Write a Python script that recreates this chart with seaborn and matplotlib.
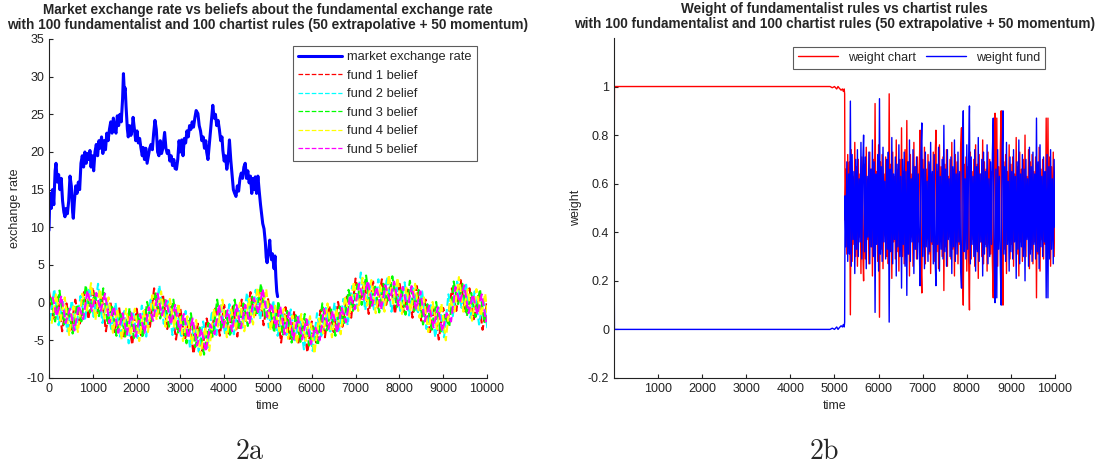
import numpy as np
import matplotlib
matplotlib.use("Agg")
import matplotlib.pyplot as plt
from matplotlib.ticker import FuncFormatter
import seaborn as sns

# ------------------------------
# Data
# ------------------------------

# market exchange rate (ends around t = 5230)
market_t = [0, 20, 50, 80, 110, 140, 160, 190, 220, 250, 280, 310, 340, 365, 390, 420, 450, 480,
            510, 540, 555, 580, 610, 640, 670, 700, 730, 760, 790, 820, 850, 880, 910, 935, 960,
            990, 1020, 1050, 1080, 1110, 1140, 1170, 1200, 1230, 1260, 1290, 1320, 1350, 1380,
            1410, 1440, 1470, 1500, 1530, 1560, 1590, 1620, 1650, 1680, 1700, 1720, 1740, 1760,
            1790, 1810, 1840, 1870, 1900, 1920, 1950, 1980, 2010, 2040, 2070, 2100, 2130, 2150,
            2180, 2210, 2240, 2270, 2300, 2330, 2360, 2390, 2420, 2450, 2480, 2510, 2540, 2570,
            2600, 2640, 2670, 2700, 2730, 2760, 2790, 2820, 2850, 2880, 2910, 2940, 2970, 3000,
            3030, 3060, 3090, 3120, 3150, 3180, 3210, 3240, 3270, 3300, 3330, 3360, 3400, 3430,
            3460, 3490, 3520, 3550, 3580, 3600, 3630, 3660, 3690, 3720, 3740, 3770, 3800, 3830,
            3860, 3890, 3920, 3950, 3970, 4000, 4030, 4060, 4090, 4120, 4150, 4180, 4210, 4240,
            4270, 4300, 4330, 4360, 4390, 4420, 4450, 4480, 4510, 4540, 4570, 4600, 4630, 4660,
            4690, 4710, 4740, 4770, 4800, 4830, 4850, 4880, 4910, 4940, 4960, 4980, 5000, 5020,
            5040, 5060, 5080, 5100, 5120, 5140, 5160, 5180, 5200, 5220]
market_rate = [9.6, 14.5, 12.5, 15.0, 13.0, 17.5, 18.5, 16.0, 17.0, 15.0, 16.5, 13.5, 12.0, 11.4,
               12.5, 11.8, 13.5, 16.8, 15.5, 12.0, 11.2, 13.5, 15.5, 14.5, 16.0, 15.0, 18.5, 19.5,
               18.0, 20.0, 18.5, 19.8, 19.0, 20.2, 18.0, 19.5, 17.5, 20.0, 21.0, 19.5, 21.5, 20.5,
               22.0, 19.8, 21.5, 20.3, 22.5, 21.5, 23.0, 24.0, 22.5, 24.5, 23.0, 22.5, 24.8, 23.5,
               25.0, 24.0, 27.0, 30.4, 28.0, 28.5, 26.0, 23.0, 22.0, 23.5, 22.2, 23.0, 24.6, 23.0,
               21.5, 22.8, 21.2, 21.8, 20.5, 19.5, 20.6, 19.0, 20.5, 18.5, 19.5, 20.5, 21.0, 20.3,
               22.5, 24.2, 23.0, 20.0, 19.5, 21.5, 19.8, 20.5, 22.6, 20.5, 19.8, 20.2, 18.8, 19.5,
               18.2, 19.0, 17.8, 17.7, 19.0, 21.5, 20.0, 21.6, 19.5, 21.8, 21.2, 22.8, 22.0, 23.5,
               23.0, 24.0, 23.3, 24.5, 25.5, 25.1, 23.5, 22.8, 21.5, 22.0, 20.5, 21.5, 20.0, 19.0,
               21.0, 23.0, 25.0, 26.2, 24.5, 25.0, 23.5, 24.2, 23.0, 21.5, 22.0, 20.2, 18.8, 19.5,
               17.7, 19.0, 21.6, 19.0, 17.0, 15.0, 14.5, 14.1, 15.5, 14.8, 16.5, 17.2, 16.5, 18.0,
               18.5, 16.5, 17.5, 15.9, 16.8, 14.5, 16.5, 15.0, 16.7, 14.5, 16.8, 14.8, 13.0, 12.0,
               10.5, 9.8, 8.0, 6.0, 5.3, 6.5, 7.0, 8.3, 6.5, 5.7, 6.5, 5.5, 4.5, 6.2, 3.4, 1.5, 0.8]

# fundamentalist beliefs, sampled every 100 time steps (each rule on its own time grid)
fund1_t = list(range(0, 10001, 100))
fund2_t = list(range(20, 10021, 100))
fund3_t = list(range(40, 10041, 100))
fund4_t = list(range(60, 10061, 100))
fund5_t = list(range(80, 10081, 100))
fund1 = [1.5, -2.1, 0.7, -3.8, -0.1, -3.6, 0.4, -2.8, 1.4, -2.2, 2.0, -1.4, 1.0, -3.8, 0.2, -3.9,
         -0.6, -4.8, -1.6, -5.6, -0.8, -4.3, -0.8, -3.5, 1.9, -1.6, 1.1, -3.5, -0.5, -4.9, -0.8,
         -5.0, -2.3, -6.8, -2.8, -6.4, -2.1, -4.8, -0.5, -4.4, -0.3, -4.1, -0.5, -4.5, 0.4, -2.6,
         1.4, -2.0, 1.6, -3.0, 0.6, -3.6, -0.7, -5.3, -0.6, -4.8, -1.1, -5.5, -2.4, -6.6, -2.5,
         -5.3, -1.0, -4.6, -0.4, -3.9, 0.1, -3.2, 0.8, -2.0, 3.2, 0.1, 2.7, -1.5, 2.8, -0.8, 3.1,
         -0.3, 2.6, -1.5, 2.8, -1.2, 2.0, -2.0, 2.2, -2.4, 0.4, -3.9, -0.8, -4.9, -0.7, -2.8, 1.9,
         -1.1, 3.0, -1.3, 1.9, -2.2, 0.9, -3.6, 0.1]
fund2 = [-2.4, 1.8, -3.0, 0.1, -3.8, 0.3, -3.5, 0.9, -2.4, 2.0, -1.9, 2.5, -2.7, 0.1, -3.5, 0.0,
         -4.5, -1.1, -5.4, -1.4, -4.7, -0.4, -4.5, 0.4, -1.8, 2.3, -2.8, 0.2, -4.3, -0.7, -4.7,
         -1.1, -6.0, -2.9, -6.5, -2.5, -6.0, -1.1, -4.3, -0.2, -4.2, -0.2, -4.2, -0.6, -3.3, 1.3,
         -2.5, 1.7, -2.2, 1.2, -3.3, 0.3, -4.4, -1.4, -4.3, -0.9, -5.0, -1.8, -6.2, -2.4, -6.4,
         -1.4, -4.7, -0.7, -4.1, 0.0, -3.8, 0.5, -3.0, 2.2, -0.7, 4.0, -1.0, 2.4, -0.9, 3.1, -0.8,
         3.4, -1.2, 2.7, -1.1, 2.7, -1.7, 1.9, -1.5, 1.5, -3.5, -0.2, -4.6, -0.7, -4.6, 1.1, -1.8,
         2.8, -0.7, 2.6, -2.0, 1.5, -2.9, 0.6, -3.8]
fund3 = [0.7, -2.5, 1.6, -2.9, -0.6, -4.1, -0.2, -2.5, 2.3, -1.3, 1.2, -1.8, 1.9, -2.9, -0.3, -4.4,
         -1.2, -4.5, -0.7, -4.7, -1.6, -4.7, 0.1, -2.6, 1.4, -2.1, 0.5, -3.2, 0.4, -4.0, -1.6,
         -5.4, -1.4, -5.9, -3.3, -6.9, -2.7, -4.5, 0.4, -3.5, -1.1, -4.5, 0.4, -3.6, -0.1, -3.1,
         0.8, -1.7, 2.5, -2.1, -0.2, -4.0, 0.2, -4.4, -1.1, -5.3, -1.7, -5.2, -1.5, -5.7, -3.3,
         -5.7, -0.1, -3.7, -0.9, -4.4, -0.5, -2.9, 1.7, -1.1, 2.4, -0.3, 3.6, -0.6, 2.3, -1.3, 2.5,
         0.0, 3.5, -0.6, 2.0, -1.6, 2.9, -1.1, 1.7, -2.9, -0.2, -3.6, 0.1, -4.0, -1.5, -3.2, 2.8,
         -0.2, 2.5, -1.8, 1.3, -1.9, 1.8, -2.7, -0.7]
fund4 = [-2.8, 1.1, -2.4, 0.7, -4.3, -0.5, -3.9, 1.2, -1.3, 2.6, -2.3, 1.8, -2.1, 0.7, -4.0, -0.8,
         -4.9, -0.8, -4.3, -0.8, -5.1, -1.1, -3.9, 1.0, -2.3, 1.5, -3.2, 0.5, -3.2, -0.1, -5.1,
         -1.8, -5.4, -2.3, -7.0, -3.3, -6.4, -0.8, -3.2, 0.4, -4.6, -0.9, -3.6, 0.0, -3.8, 0.5,
         -2.9, 2.0, -1.1, 1.8, -3.7, -0.4, -3.8, -0.8, -4.8, -1.7, -5.4, -1.5, -5.1, -1.8, -6.8,
         -2.1, -4.1, -0.1, -4.6, -0.8, -4.2, 0.8, -1.9, 2.8, -1.1, 3.3, -0.4, 3.0, -1.4, 2.3, -1.2,
         3.7, -0.1, 3.3, -1.5, 2.0, -1.1, 2.5, -2.0, 0.7, -3.9, 0.1, -3.5, -0.1, -5.0, 0.4, -1.2,
         3.4, -1.2, 1.8, -2.4, 1.8, -1.8, 1.2, -4.2]
fund5 = [0.8, -1.8, 0.9, -2.7, -0.8, -3.7, -0.4, -2.2, 1.6, -1.1, 1.3, -1.1, 1.2, -2.7, -0.5, -4.0,
         -1.4, -4.2, -1.4, -4.5, -1.5, -4.0, -0.6, -2.4, 1.2, -1.7, 0.3, -2.9, -0.3, -3.8, -1.5,
         -4.7, -2.1, -5.7, -3.5, -6.5, -2.9, -4.2, -0.3, -3.3, -1.0, -3.8, -0.3, -3.4, -0.3, -2.7,
         0.6, -1.4, 1.8, -1.9, -0.1, -3.3, -0.5, -4.2, -1.3, -4.9, -1.9, -4.9, -2.2, -5.5, -3.2,
         -5.0, -0.8, -3.5, -1.1, -4.0, -0.7, -2.6, 1.0, -0.9, 2.5, 0.4, 2.9, -0.4, 2.1, -0.9, 2.3,
         0.3, 2.8, -0.4, 2.1, -0.9, 2.2, -0.9, 1.5, -2.5, -0.4, -3.3, -0.6, -3.8, -1.4, -2.5, 2.1,
         0.0, 2.3, -1.4, 1.1, -1.6, 1.1, -2.5, -0.6]

fund_times = [fund1_t, fund2_t, fund3_t, fund4_t, fund5_t]
fund_series = [fund1, fund2, fund3, fund4, fund5]
fund_labels = ["fund 1 belief", "fund 2 belief", "fund 3 belief", "fund 4 belief", "fund 5 belief"]
fund_colors = ["#ff0000", "#00ffff", "#00ff00", "#ffff00", "#ff00ff"]

# weight of chartist rules: flat regime up to ~5230, then switching every 20 steps
weight_t = [0, 10, 1000, 2000, 3000, 4000, 4900, 4950, 5000, 5050, 5080, 5100, 5150, 5180,
            5200, 5220, 5230] + list(range(5240, 10001, 20))
weight_chart = [0.5, 1.0, 1.0, 1.0, 1.0, 1.0, 1.0, 0.995, 1.0, 0.99, 1.0, 0.995, 0.985, 0.99,
                0.98, 0.99, 0.97,
                0.45, 0.66, 0.31, 0.72, 0.36, 0.69, 0.06, 0.74, 0.28, 0.63,
                0.35, 0.77, 0.30, 0.67, 0.26, 0.70, 0.38, 0.64, 0.23, 0.71,
                0.33, 0.20, 0.68, 0.29, 0.75, 0.37, 0.62, 0.27, 0.73, 0.34,
                0.66, 0.22, 0.70, 0.31, 0.93, 0.36, 0.65, 0.28, 0.76, 0.05,
                0.69, 0.33, 0.72, 0.25, 0.64, 0.39, 0.71, 0.30, 0.67, 0.27,
                0.97, 0.34, 0.68, 0.21, 0.73, 0.36, 0.63, 0.29, 0.78, 0.32,
                0.66, 0.24, 0.70, 0.37, 0.83, 0.30, 0.65, 0.27, 0.74, 0.35,
                0.86, 0.31, 0.69, 0.22, 0.72, 0.38, 0.64, 0.26, 0.77, 0.33,
                0.67, 0.29, 0.71, 0.36, 0.63, 0.82, 0.28, 0.15, 0.70, 0.34,
                0.75, 0.27, 0.66, 0.39, 0.72, 0.31, 0.68, 0.23, 0.64, 0.35,
                0.73, 0.28, 0.69, 0.82, 0.32, 0.65, 0.25, 0.76, 0.37, 0.67,
                0.30, 0.71, 0.16, 0.68, 0.34, 0.74, 0.26, 0.63, 0.38, 0.70,
                0.29, 0.77, 0.33, 0.66, 0.22, 0.72, 0.36, 0.69, 0.27, 0.64,
                0.35, 0.75, 0.83, 0.30, 0.10, 0.68, 0.38, 0.71, 0.24, 0.67,
                0.32, 0.08, 0.73, 0.29, 0.65, 0.37, 0.70, 0.26, 0.76, 0.33,
                0.68, 0.21, 0.72, 0.36, 0.64, 0.30, 0.78, 0.27, 0.69, 0.35,
                0.66, 0.24, 0.73, 0.38, 0.70, 0.31, 0.65, 0.28, 0.13, 0.71,
                0.89, 0.34, 0.87, 0.26, 0.67, 0.37, 0.74, 0.90, 0.30, 0.10,
                0.69, 0.33, 0.72, 0.23, 0.65, 0.39, 0.76, 0.29, 0.68, 0.35,
                0.71, 0.26, 0.64, 0.37, 0.79, 0.31, 0.67, 0.22, 0.73, 0.36,
                0.66, 0.28, 0.70, 0.34, 0.80, 0.30, 0.63, 0.38, 0.74, 0.25,
                0.69, 0.33, 0.72, 0.27, 0.65, 0.36, 0.71, 0.13, 0.68, 0.31,
                0.75, 0.24, 0.66, 0.37, 0.70, 0.29, 0.64, 0.35, 0.87, 0.28,
                0.87, 0.33, 0.71, 0.26, 0.67, 0.38, 0.73, 0.30, 0.58]
# the two weights sum to one at every step (mirror image in the reference)
weight_fund = [round(1.0 - w, 3) for w in weight_chart]

left_xticks = list(range(0, 10001, 1000))
right_xticks = list(range(1000, 10001, 1000))
left_yticks = list(range(-10, 36, 5))
right_yticks = [-0.2, 0, 0.2, 0.4, 0.6, 0.8, 1.0]

title_a = ("Market exchange rate vs beliefs about the fundamental exchange rate\n"
           "with 100 fundamentalist and 100 chartist rules (50 extrapolative + 50 momentum)")
title_b = ("Weight of fundamentalist rules vs chartist rules\n"
           "with 100 fundamentalist and 100 chartist rules (50 extrapolative + 50 momentum)")

# ------------------------------
# Style
# ------------------------------
sns.set_style("white")
plt.rcParams["font.family"] = ["Liberation Sans", "DejaVu Sans"]
plt.rcParams["mathtext.fontset"] = "cm"
plt.rcParams["axes.unicode_minus"] = False
plt.rcParams["font.size"] = 9
plt.rcParams["xtick.direction"] = "in"
plt.rcParams["ytick.direction"] = "in"

fig = plt.figure(figsize=(10.96, 4.72), dpi=100)
ax1 = fig.add_axes([0.0447, 0.1992, 0.3996, 0.7182])
ax2 = fig.add_axes([0.5602, 0.1992, 0.4024, 0.7204])

# ------------------------------
# 2a: exchange rate vs beliefs
# ------------------------------
sns.lineplot(x=market_t, y=market_rate, ax=ax1, color="#0000ff", linewidth=2.2,
             sort=False, estimator=None, label="market exchange rate")
for tt, vals, lab, col in zip(fund_times, fund_series, fund_labels, fund_colors):
    sns.lineplot(x=tt, y=vals, ax=ax1, color=col, linewidth=1.5, linestyle="--",
                 dashes=(2.0, 1.2), sort=False, estimator=None, label=lab)

ax1.set_xlim(0, 10000)
ax1.set_ylim(-10, 35)
ax1.set_xticks(left_xticks)
ax1.set_yticks(left_yticks)
ax1.set_xlabel("time", fontsize=9)
ax1.set_ylabel("exchange rate", fontsize=9)
ax1.set_title(title_a, fontsize=9.8, fontweight="bold", pad=7.5, linespacing=1.05)
leg1 = ax1.legend(loc="upper right", bbox_to_anchor=(0.977, 0.979), borderaxespad=0,
                  fancybox=False, edgecolor="#333333", fontsize=9.3, handlelength=3.4,
                  handletextpad=0.4, labelspacing=0.5)
leg1.get_frame().set_linewidth(0.8)
for h in leg1.get_lines()[1:]:
    h.set_linewidth(0.9)

# ------------------------------
# 2b: weights
# ------------------------------
sns.lineplot(x=weight_t, y=weight_chart, ax=ax2, color="#ff0000", linewidth=1,
             sort=False, estimator=None, label="weight chart")
sns.lineplot(x=weight_t, y=weight_fund, ax=ax2, color="#0000ff", linewidth=1,
             sort=False, estimator=None, label="weight fund")

ax2.set_xlim(0, 10000)
ax2.set_ylim(-0.2, 1.2)
ax2.set_xticks(right_xticks)
ax2.set_yticks(right_yticks)
ax2.yaxis.set_major_formatter(FuncFormatter(lambda v, p: "%g" % round(v, 2)))
ax2.set_xlabel("time", fontsize=9)
ax2.set_ylabel("weight", fontsize=9)
ax2.set_title(title_b, fontsize=9.8, fontweight="bold", pad=7.5, linespacing=1.05)
leg2 = ax2.legend(loc="upper right", bbox_to_anchor=(0.977, 0.974), borderaxespad=0, ncol=2,
                  fancybox=False, edgecolor="#333333", fontsize=9, handlelength=3.2,
                  columnspacing=0.8)
leg2.get_frame().set_linewidth(0.8)

for ax in (ax1, ax2):
    sns.despine(ax=ax)
    for s in ("left", "bottom"):
        ax.spines[s].set_color("#222222")
        ax.spines[s].set_linewidth(0.8)
    ax.tick_params(axis="both", labelsize=9, colors="#222222", length=3, width=0.8,
                   bottom=True, left=True)

fig.text(0.228, 0.042, r"$\mathrm{2a}$", fontsize=20, ha="center", va="center")
fig.text(0.752, 0.042, r"$\mathrm{2b}$", fontsize=20, ha="center", va="center")

fig.savefig("out.png", dpi=100)
